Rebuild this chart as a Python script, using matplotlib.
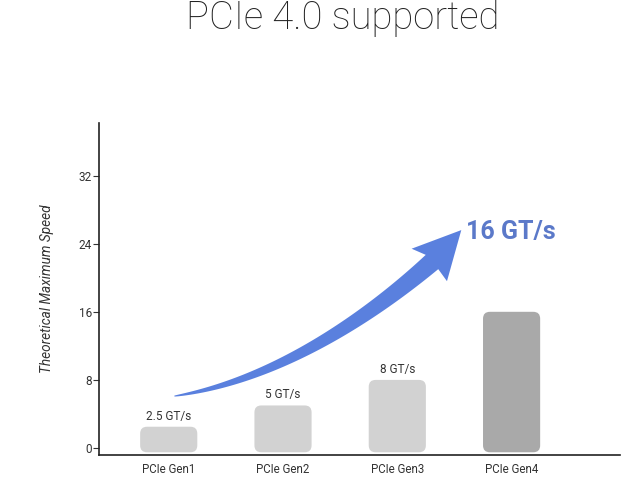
import matplotlib
matplotlib.use("Agg")
import matplotlib.pyplot as plt
import numpy as np
from matplotlib.patches import FancyBboxPatch, Polygon

categories = ["PCIe Gen1", "PCIe Gen2", "PCIe Gen3", "PCIe Gen4"]
speeds = [2.5, 5, 8, 16]
speed_labels = ["2.5 GT/s", "5 GT/s", "8 GT/s"]
highlight_label = "16 GT/s"
yticks = [0, 8, 16, 24, 32]

plt.rcParams['font.family'] = ['Roboto', 'DejaVu Sans']

fig = plt.figure(figsize=(6.4, 4.8), dpi=100)
ax = fig.add_axes([0.1547, 0.0521, 0.8143, 0.692])
ax.set_xlim(-0.61, 3.95)
ax.set_ylim(-0.82, 38.2)

x = np.arange(len(categories))
colors = ['#d2d2d2', '#d2d2d2', '#d2d2d2', '#a9a9a9']
bars = ax.bar(x, np.array(speeds) + 0.5, bottom=-0.5, width=0.5, color='none')

fig.canvas.draw()
p0 = ax.transData.transform((0, 0))
p1 = ax.transData.transform((1, 1))
ypp = 1.0 / (p1[1] - p0[1])
xpp = 1.0 / (p1[0] - p0[0])
aspect = ypp / xpp
for b, c in zip(bars, colors):
    fb = FancyBboxPatch((b.get_x(), b.get_y()), b.get_width(), b.get_height(),
                        boxstyle="round,pad=0,rounding_size=0.06",
                        mutation_aspect=aspect, facecolor=c, edgecolor='none', zorder=2)
    ax.add_patch(fb)
    b.remove()

for xi, v, lab in zip(x, speeds, speed_labels):
    ax.annotate(lab, (xi, v), xytext=(0, 3), textcoords='offset points',
                ha='center', va='bottom', fontsize=8.5, color='#333333')

ax.set_xticks(x)
ax.set_xticklabels(categories, fontsize=8.3, color='#333333')
ax.tick_params(axis='x', length=0, pad=6)
ax.set_yticks(yticks)
ax.tick_params(axis='y', labelsize=8.5, labelcolor='#333333', length=4, width=0.8, color='#333333', pad=1)
for s in ['top', 'right']:
    ax.spines[s].set_visible(False)
for s in ['left', 'bottom']:
    ax.spines[s].set_linewidth(1.2)
    ax.spines[s].set_color('#222222')
ax.set_ylabel("Theoretical Maximum Speed", fontsize=9.8, style='italic', color='#333333')
ax.yaxis.set_label_coords(-0.087, 0.5)

# curved tapered arrow (display coords)
start = ax.transData.transform((0.05, 6.1))
tip = ax.transData.transform((2.56, 25.6))
H = fig.bbox.height
def pix(px, py):
    return np.array([px, H - py])
P0 = start
P1 = pix(280, 380)
P2 = pix(375, 312)
P3 = pix(432, 262)
t = np.linspace(0, 1, 80)[:, None]
curve = (1 - t) ** 3 * P0 + 3 * (1 - t) ** 2 * t * P1 + 3 * (1 - t) * t ** 2 * P2 + t ** 3 * P3
d = np.gradient(curve, axis=0)
d /= np.linalg.norm(d, axis=1)[:, None]
n = np.stack([-d[:, 1], d[:, 0]], axis=1)
w = (1.0 + 18.0 * t[:, 0] ** 0.75)[:, None] / 2
upper = curve + n * w
lower = curve - n * w
dirn = tip - P3
dirn = dirn / np.linalg.norm(dirn)
nn = np.array([-dirn[1], dirn[0]])
barb1 = P3 + nn * 24 - dirn * 4
barb2 = P3 - nn * 24 - dirn * 4
poly = np.vstack([lower, barb2[None], tip[None], barb1[None], upper[::-1]])
ax.add_patch(Polygon(poly, closed=True, transform=None, facecolor='#5a80de', edgecolor='none', zorder=3))

ax.text(2.99, 25.4, highlight_label, fontsize=18, fontweight='bold', color='#5b79c9',
        ha='center', va='center')

fig.text(0.536, 0.962, "PCIe 4.0 supported", fontsize=27.5, fontweight='light', color='#222222',
         ha='center', va='center')

fig.savefig("out.png", dpi=100, facecolor='white')
